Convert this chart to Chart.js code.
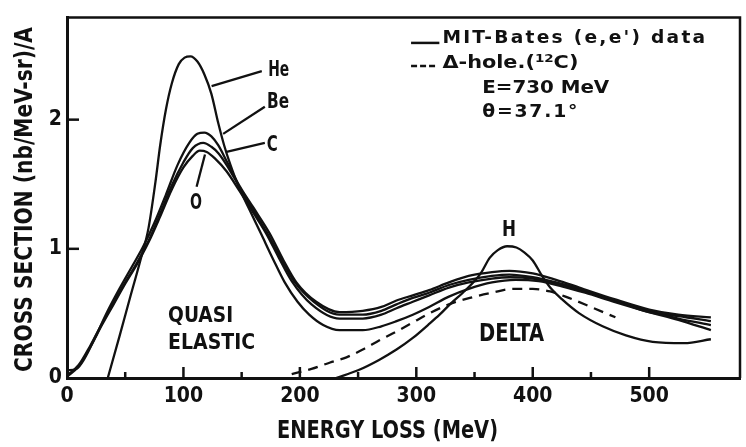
<!DOCTYPE html>
<html>
<head>
<meta charset="utf-8">
<script src="https://cdn.jsdelivr.net/npm/chart.js@4.4.1/dist/chart.umd.min.js"></script>
<style>
  html, body { margin: 0; padding: 0; background: #fff; }
</style>
</head>
<body>
<canvas id="xsec" width="746" height="447"></canvas>
<script>
// inclusive (e,e') cross sections per nucleon, E = 730 MeV, theta = 37.1 deg
var heE = [35, 45, 55, 63, 70, 76, 80, 85, 90, 96, 101, 106, 112, 118, 124, 130, 135, 140, 148, 158,
  167, 177, 187, 198, 208, 220, 234, 254, 270, 283, 297, 311, 328, 345, 365, 385, 405, 425, 445, 470,
  500, 525, 553];
var heSig = [0, 0.32, 0.65, 0.91, 1.16, 1.52, 1.80, 2.08, 2.28, 2.43, 2.48, 2.49, 2.45, 2.35, 2.20, 1.97, 1.80, 1.66, 1.47, 1.28,
  1.11, 0.92, 0.74, 0.59, 0.49, 0.41, 0.37, 0.37, 0.40, 0.44, 0.49, 0.55, 0.63, 0.69, 0.74, 0.76, 0.75, 0.71, 0.66, 0.59,
  0.51, 0.45, 0.37];

var beE = [0, 8, 15, 25, 35, 45, 55, 65, 75, 85, 95, 105, 112, 118, 124, 130, 137, 148, 160, 174,
  186, 197, 214, 234, 254, 270, 283, 297, 311, 328, 345, 365, 380, 400, 420, 440, 470, 500, 525, 553];
var beSig = [0.06, 0.07, 0.15, 0.33, 0.52, 0.69, 0.85, 1.01, 1.20, 1.42, 1.65, 1.82, 1.89, 1.90, 1.87, 1.80, 1.68, 1.49, 1.32, 1.12,
  0.91, 0.74, 0.59, 0.51, 0.52, 0.55, 0.60, 0.64, 0.68, 0.74, 0.79, 0.82, 0.83, 0.81, 0.76, 0.70, 0.61, 0.53, 0.49, 0.47];

var cE = [0, 10, 20, 30, 40, 50, 60, 70, 80, 90, 100, 108, 117, 124, 130, 137, 148, 160, 172, 184,
  195, 212, 234, 254, 270, 283, 297, 311, 328, 345, 365, 380, 400, 420, 440, 470, 500, 525, 553];
var cSig = [0.02, 0.10, 0.25, 0.42, 0.58, 0.74, 0.89, 1.06, 1.27, 1.49, 1.67, 1.78, 1.82, 1.79, 1.74, 1.65, 1.48, 1.30, 1.12, 0.92,
  0.75, 0.59, 0.49, 0.49, 0.52, 0.57, 0.62, 0.66, 0.72, 0.76, 0.79, 0.80, 0.78, 0.74, 0.69, 0.60, 0.52, 0.46, 0.41];

var oE = [0, 10, 20, 30, 40, 50, 60, 70, 80, 90, 100, 108, 114, 120, 127, 137, 148, 160, 171, 182,
  193, 210, 234, 254, 270, 283, 297, 311, 328, 345, 365, 380, 400, 420, 440, 470, 500, 525, 553];
var oSig = [0.01, 0.09, 0.24, 0.41, 0.57, 0.73, 0.88, 1.05, 1.25, 1.46, 1.63, 1.72, 1.76, 1.75, 1.70, 1.60, 1.45, 1.28, 1.12, 0.93,
  0.75, 0.57, 0.46, 0.46, 0.49, 0.54, 0.59, 0.64, 0.70, 0.74, 0.77, 0.78, 0.77, 0.73, 0.68, 0.60, 0.51, 0.48, 0.44];

var hE = [231, 250, 268, 283, 297, 310, 320, 330, 340, 350, 356, 363, 370, 378, 386, 393, 400, 408, 415, 425,
  440, 460, 480, 503, 530, 553];
var hSig = [0, 0.06, 0.14, 0.22, 0.31, 0.41, 0.49, 0.58, 0.66, 0.75, 0.82, 0.93, 0.99, 1.02, 1.01, 0.97, 0.91, 0.79, 0.70, 0.61,
  0.50, 0.40, 0.33, 0.28, 0.27, 0.30];

// delta-hole calculation for 12C
var dhE = [193, 210, 226, 240, 254, 268, 283, 297, 311, 328, 346, 365, 383, 400, 415, 431, 450, 471];
var dhSig = [0.03, 0.07, 0.12, 0.16, 0.22, 0.29, 0.36, 0.43, 0.50, 0.57, 0.62, 0.66, 0.69, 0.69, 0.67, 0.62, 0.55, 0.47];

var xTicks = [0, 100, 200, 300, 400, 500];
var yTicks = [0, 1, 2];

var FACE = "'Liberation Sans Narrow', 'DejaVu Sans Condensed', 'Liberation Sans', sans-serif";
var INK = '#111';

function pts(e, s) {
  return e.map(function (x, i) { return { x: x, y: s[i] }; });
}

function curve(e, s, dash) {
  return {
    data: pts(e, s),
    borderColor: INK,
    borderWidth: 2.3,
    borderDash: dash || [],
    pointRadius: 0,
    fill: false,
    cubicInterpolationMode: 'monotone'
  };
}

// when a line of text must cover much more room than it takes, give half
// of the excess to letter spacing and fit the rest with a horizontal scale
function fitWidth(ctx, str, width) {
  var w = ctx.measureText(str).width;
  if (width && width > w * 1.25 && 'letterSpacing' in ctx) {
    var n = Array.from(str).length;
    ctx.letterSpacing = ((width - w) * 0.45 / n).toFixed(2) + 'px';
    w = ctx.measureText(str).width;
  }
  return width ? width / w : 1;
}

// text fitted to a given width, centred on its cap height
function text(ctx, str, x, y, size, width, align) {
  ctx.save();
  ctx.font = 'bold ' + size + 'px ' + FACE;
  var k = fitWidth(ctx, str, width);
  ctx.translate(x, y + size * 0.36);
  ctx.scale(k, 1);
  ctx.textAlign = align || 'center';
  ctx.textBaseline = 'alphabetic';
  ctx.fillStyle = INK;
  ctx.fillText(str, 0, 0);
  ctx.restore();
}

var annotations = {
  id: 'annotations',
  afterDraw: function (chart) {
    var ctx = chart.ctx;
    var xs = chart.scales.x;
    var ys = chart.scales.y;
    var a = chart.chartArea;
    function px(v) { return xs.getPixelForValue(v); }
    function py(v) { return ys.getPixelForValue(v); }
    function seg(x1, y1, x2, y2) {
      ctx.beginPath();
      ctx.moveTo(px(x1), py(y1));
      ctx.lineTo(px(x2), py(y2));
      ctx.stroke();
    }

    ctx.save();
    ctx.strokeStyle = INK;
    ctx.lineCap = 'butt';

    // frame: top and right sides
    ctx.lineWidth = 2.5;
    ctx.beginPath();
    ctx.moveTo(a.left, a.top);
    ctx.lineTo(a.right, a.top);
    ctx.lineTo(a.right, a.bottom);
    ctx.stroke();

    // inward tick marks
    xs.ticks.forEach(function (t) {
      if (t.value <= 0 || t.value % 50 !== 0) return;
      var len = t.value % 100 === 0 ? 11 : 6;
      ctx.beginPath();
      ctx.moveTo(px(t.value), a.bottom);
      ctx.lineTo(px(t.value), a.bottom - len);
      ctx.stroke();
    });
    ys.ticks.forEach(function (t) {
      if (t.value <= 0 || !Number.isInteger(t.value)) return;
      ctx.beginPath();
      ctx.moveTo(a.left, py(t.value));
      ctx.lineTo(a.left + 12, py(t.value));
      ctx.stroke();
    });

    // curve labels with leader lines
    ctx.lineWidth = 2.3;
    seg(124.2, 2.26, 167.3, 2.375);
    seg(134.1, 1.89, 169.9, 2.10);
    seg(137.0, 1.75, 169.9, 1.82);
    seg(118.5, 1.73, 111.3, 1.48);
    text(ctx, 'He', px(181.8), py(2.40), 21, 21);
    text(ctx, 'Be', px(181.3), py(2.145), 21, 22);
    text(ctx, 'C', px(176.2), py(1.815), 21, 11);
    text(ctx, 'O', px(110.7), py(1.366), 21, 12);
    text(ctx, 'H', px(379.7), py(1.155), 21, 14);

    text(ctx, 'QUASI', px(86.8), py(0.494), 21, 65, 'left');
    text(ctx, 'ELASTIC', px(86.8), py(0.287), 22, 87, 'left');
    text(ctx, 'DELTA', px(381.8), py(0.355), 24, 65);

    // key
    ctx.lineWidth = 2.5;
    seg(295.5, 2.594, 319.8, 2.594);
    ctx.setLineDash([6, 3]);
    seg(295.5, 2.415, 317.5, 2.415);
    ctx.setLineDash([]);
    text(ctx, "MIT-Bates (e,e') data", px(322.4), py(2.638), 17, 265, 'left');

    // "Δ-hole.(12C)" with raised mass number
    ctx.save();
    ctx.fillStyle = INK;
    ctx.textBaseline = 'alphabetic';
    var base = py(2.445) + 17 * 0.36;
    var parts = [['\u0394-hole.(', 17, 0], ['12', 11, -6], ['C)', 17, 0]];
    var total = 0;
    parts.forEach(function (p) {
      ctx.font = 'bold ' + p[1] + 'px ' + FACE;
      p.push(ctx.measureText(p[0]).width);
      total += p[3];
    });
    var k = 136 / total;
    ctx.translate(px(322.4), base);
    ctx.scale(k, 1);
    var cx = 0;
    parts.forEach(function (p) {
      ctx.font = 'bold ' + p[1] + 'px ' + FACE;
      ctx.fillText(p[0], cx, p[2]);
      cx += p[3];
    });
    ctx.restore();

    text(ctx, 'E=730 MeV', px(356.6), py(2.26), 18, 127, 'left');
    text(ctx, '\u03B8=37.1\u00B0', px(356.6), py(2.072), 18, 97, 'left');

    // axis titles
    text(ctx, 'ENERGY LOSS (MeV)', 387.5, 429, 25, 221);
    ctx.save();
    ctx.translate(23.5, 199.5);
    ctx.rotate(-Math.PI / 2);
    text(ctx, 'CROSS SECTION (nb/MeV-sr)/A', 0, 0, 24, 345);
    ctx.restore();

    ctx.restore();
  }
};

new Chart(document.getElementById('xsec'), {
  type: 'line',
  data: {
    datasets: [
      curve(heE, heSig),
      curve(beE, beSig),
      curve(cE, cSig),
      curve(oE, oSig),
      curve(hE, hSig),
      curve(dhE, dhSig, [10, 7])
    ]
  },
  options: {
    responsive: false,
    animation: false,
    devicePixelRatio: 1,
    layout: { padding: { top: 8, right: 5, left: 0, bottom: 0 } },
    plugins: { legend: { display: false }, tooltip: { enabled: false } },
    scales: {
      x: {
        type: 'linear',
        min: 0,
        max: 578,
        grid: { display: false, drawTicks: false },
        border: { display: true, color: INK, width: 3 },
        ticks: {
          stepSize: 50,
          autoSkip: false,
          maxRotation: 0,
          padding: 6,
          color: INK,
          font: { family: FACE, size: 21, weight: 'bold' },
          callback: function (v) { return xTicks.indexOf(v) >= 0 ? String(v) : ''; }
        },
        afterFit: function (s) { s.height = 69; }
      },
      y: {
        type: 'linear',
        min: 0,
        max: 2.79,
        grid: { display: false, drawTicks: false },
        border: { display: true, color: INK, width: 3 },
        ticks: {
          stepSize: 1,
          padding: 5,
          color: INK,
          font: { family: FACE, size: 21, weight: 'bold' },
          callback: function (v) { return yTicks.indexOf(v) >= 0 ? String(v) : ''; }
        },
        afterFit: function (s) { s.width = 67; }
      }
    }
  },
  plugins: [annotations]
});
</script>
</body>
</html>
